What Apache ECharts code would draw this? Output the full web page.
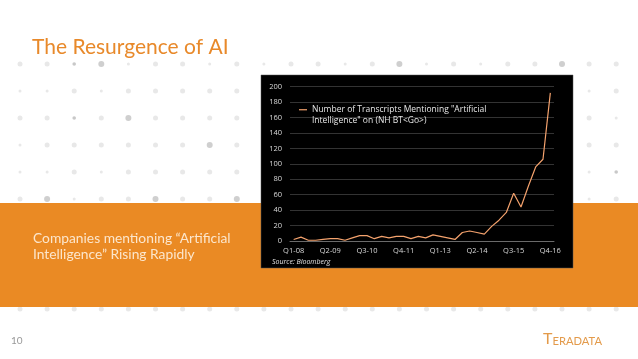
<!DOCTYPE html>
<html><head><meta charset="utf-8">
<script src="https://cdn.jsdelivr.net/npm/echarts@6/dist/echarts.min.js"></script>
<style>html,body{margin:0;padding:0;background:#fff}#c{width:638px;height:359px}</style>
</head><body><div id="c"></div>
<script>
var categories = ['Q1-08','Q2-08','Q3-08','Q4-08','Q1-09','Q2-09','Q3-09','Q4-09','Q1-10','Q2-10','Q3-10','Q4-10','Q1-11','Q2-11','Q3-11','Q4-11','Q1-12','Q2-12','Q3-12','Q4-12','Q1-13','Q2-13','Q3-13','Q4-13','Q1-14','Q2-14','Q3-14','Q4-14','Q1-15','Q2-15','Q3-15','Q4-15','Q1-16','Q2-16','Q3-16','Q4-16'];
var transcripts = [2,5,1,1,2,3,3,1,4,7,7,3,6,4,6,6,3,6,4,8,6,4,2,11,13,11,9,19,27,37,62,44,71,96,106,192];
var seriesName = 'Number of Transcripts Mentioning "Artificial\nIntelligence" on (NH BT<Go>)';
var yTicks = [0,20,40,60,80,100,120,140,160,180,200];

var dotRows = [
  {y:64,  p:'nndbsnnsnsnnsnbsnsnnbn'+'n'},
  {y:91,  p:'ssnsnnnnnnnnnnnnnnnnnsn'},
  {y:118, p:'nndnbnnnnnnnnnnnnnnnnns'},
  {y:145, p:'snnnnnnbnnnnnnnnnnnnnnn'},
  {y:172, p:'ssnsnnnnnnnnnnnnnnnnnsd'},
  {y:199, p:'nbsnnbnnbnnnnnnnnnnnnsn'},
  {y:309, p:'nnnnnnnnnnnnnnnnnnnnnnn'}
];
var graphics = [];
dotRows.forEach(function(row){
  for (var i=0;i<row.p.length;i++){
    var x = 20 + i*27.1, t=row.p[i];
    var r = t==='b'?3:(t==='s'?1.5:(t==='d'?1.8:2.5));
    var col = t==='b'?'#cfcfcf':(t==='d'?'#c8c8c8':'#e8e8e8');
    graphics.push({type:'circle', z:-30, shape:{cx:x, cy:row.y, r:r}, style:{fill:col}, silent:true});
  }
});
graphics.push({type:'rect', z:-20, shape:{x:0,y:203,width:638,height:104}, style:{fill:'#EA8A24'}});
graphics.push({type:'rect', z:-10, shape:{x:261,y:75,width:312,height:193}, style:{fill:'#000000', stroke:'#555', lineWidth:0.5}});
graphics.push({type:'text', z:5, left:32, top:37, style:{text:'The Resurgence of AI', fill:'#E8892A', font:'21px Lato'}});
graphics.push({type:'text', z:5, left:33, top:231, style:{text:'Companies mentioning \u201cArtificial\nIntelligence\u201d Rising Rapidly', fill:'#FCE6CC', font:'13.8px Lato', lineHeight:16}});
graphics.push({type:'text', z:5, left:11, top:336, style:{text:'10', fill:'#999999', font:'10px Lato'}});
graphics.push({type:'text', z:5, left:272, top:258, style:{text:'Source: Bloomberg', fill:'#e0e0e0', font:'italic 7px "Open Sans"'}});
graphics.push({type:'text', z:5, left:543, top:331, style:{
  text:'{t|T}{r|ERADATA}', rich:{t:{fontSize:16, fontFamily:'Lato', fill:'#E39A4A', verticalAlign:'bottom'}, r:{fontSize:11.2, fontFamily:'Lato', fill:'#E39A4A', verticalAlign:'bottom'}}}});

var chart = echarts.init(document.getElementById('c'), null, {renderer:'canvas'});
chart.setOption({
  backgroundColor:'#ffffff',
  animation:false,
  graphic:{elements:graphics},
  grid:{left:290, right:84, top:86.7, bottom:118, containLabel:false},
  legend:{show:true, left:294, top:89, orient:'vertical', icon:'rect', itemWidth:8, itemHeight:1.2, itemGap:0,
    itemStyle:{color:'#F4A26D'},
    textStyle:{color:'#e6e6e6', fontSize:8.5, fontFamily:'Open Sans', lineHeight:10.5},
    formatter:function(n){return ' \n' + n;}},
  xAxis:{type:'category', data:categories, boundaryGap:true,
    axisLine:{show:true, lineStyle:{color:'#6a6a6a', width:1}},
    axisTick:{show:false},
    axisLabel:{interval:4, color:'#d9d9d9', fontSize:7.5, fontFamily:'Open Sans', margin:6}},
  yAxis:{type:'value', min:0, max:200, interval:20,
    axisLine:{show:false}, axisTick:{show:false},
    splitLine:{lineStyle:{color:'#333333', width:1}},
    axisLabel:{color:'#d9d9d9', fontSize:7.5, fontFamily:'Open Sans', margin:8}},
  series:[{type:'line', name:seriesName, data:transcripts, symbol:'none', showSymbol:false,
    lineStyle:{color:'#F4A26D', width:1.2}, itemStyle:{color:'#F4A26D'}}]
});
</script></body></html>
